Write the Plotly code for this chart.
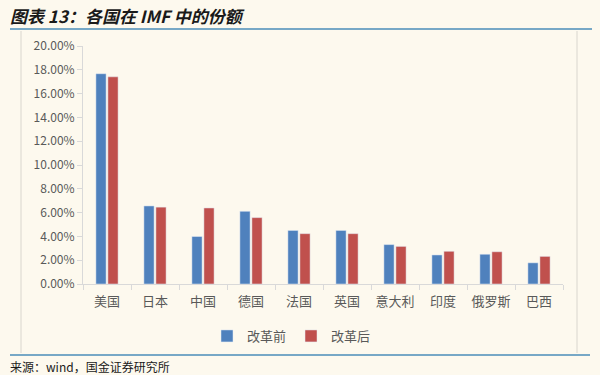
import plotly.graph_objects as go

categories = ["美国", "日本", "中国", "德国", "法国", "英国", "意大利", "印度", "俄罗斯", "巴西"]
before = [0.1767, 0.0656, 0.0399, 0.0611, 0.0450, 0.0450, 0.0331, 0.0244, 0.0250, 0.0178]
after = [0.1741, 0.0646, 0.0639, 0.0558, 0.0423, 0.0423, 0.0316, 0.0275, 0.0271, 0.0232]
series_names = ["改革前", "改革后"]
y_ticks = [0, 0.02, 0.04, 0.06, 0.08, 0.10, 0.12, 0.14, 0.16, 0.18, 0.20]

W, H = 600, 375
L, R, T, B = 83, 37, 46, 91
PW, PH = W - L - R, H - T - B

def px(x):
    return (x - L) / PW

def py(y):
    return (H - B - y) / PH

font = "Noto Sans CJK SC, Microsoft YaHei, sans-serif"
bg = "#FDF9EE"

fig = go.Figure()
fig.add_trace(go.Bar(x=categories, y=before, name=series_names[0], marker_color="#4F81BD"))
fig.add_trace(go.Bar(x=categories, y=after, name=series_names[1], marker_color="#C0504D"))

shapes = [
    dict(type="line", xref="paper", yref="paper", x0=px(10), x1=px(592), y0=py(29), y1=py(29),
         line=dict(color="#4A8DB8", width=1.5)),
    dict(type="line", xref="paper", yref="paper", x0=px(10), x1=px(590), y0=py(355), y1=py(355),
         line=dict(color="#4A8DB8", width=1.5)),
    dict(type="line", xref="paper", yref="paper", x0=px(21), x1=px(21), y0=py(31), y1=py(353),
         line=dict(color="#D9D6CE", width=1)),
    dict(type="line", xref="paper", yref="paper", x0=px(577), x1=px(577), y0=py(31), y1=py(353),
         line=dict(color="#D9D6CE", width=1)),
]

annotations = [
    dict(text="<b><i>图表 13：各国在 IMF 中的份额</i></b>", xref="paper", yref="paper",
         x=px(8), y=py(15), xanchor="left", yanchor="middle", showarrow=False,
         font=dict(family=font, size=17, color="#1a1a1a")),
    dict(text="来源：wind，国金证券研究所", xref="paper", yref="paper",
         x=px(8), y=py(366), xanchor="left", yanchor="middle", showarrow=False,
         font=dict(family=font, size=12, color="#1a1a1a")),
]

fig.update_layout(
    width=W, height=H,
    margin=dict(l=L, r=R, t=T, b=B, autoexpand=False),
    paper_bgcolor=bg, plot_bgcolor=bg,
    barmode="group", bargap=0.5, bargroupgap=0.15,
    showlegend=True,
    legend=dict(orientation="h", x=px(207), y=py(336), xanchor="left", yanchor="middle",
                font=dict(family=font, size=13, color="#595959"), bgcolor="rgba(0,0,0,0)",
                itemwidth=30, traceorder="normal"),
    shapes=shapes, annotations=annotations,
    font=dict(family=font, color="#595959"),
)
fig.update_yaxes(range=[0, 0.2], tickvals=y_ticks, tickformat=".2%", showgrid=False,
                 showline=True, linecolor="#D9D9D9", ticks="outside", tickcolor="#D9D9D9",
                 ticklen=5, tickfont=dict(family=font, size=12, color="#595959"), zeroline=False,
                 automargin=False)
fig.update_xaxes(showgrid=False, showline=True, linecolor="#D9D9D9", ticks="outside",
                 tickson="boundaries", tickcolor="#D9D9D9", ticklen=5, tickangle=0,
                 ticklabelstandoff=5,
                 tickfont=dict(family=font, size=13, color="#595959"), automargin=False)

fig.write_html("out.html", config={"displayModeBar": False},
               post_script="document.body.style.margin='0';document.body.style.background='%s';" % bg)
